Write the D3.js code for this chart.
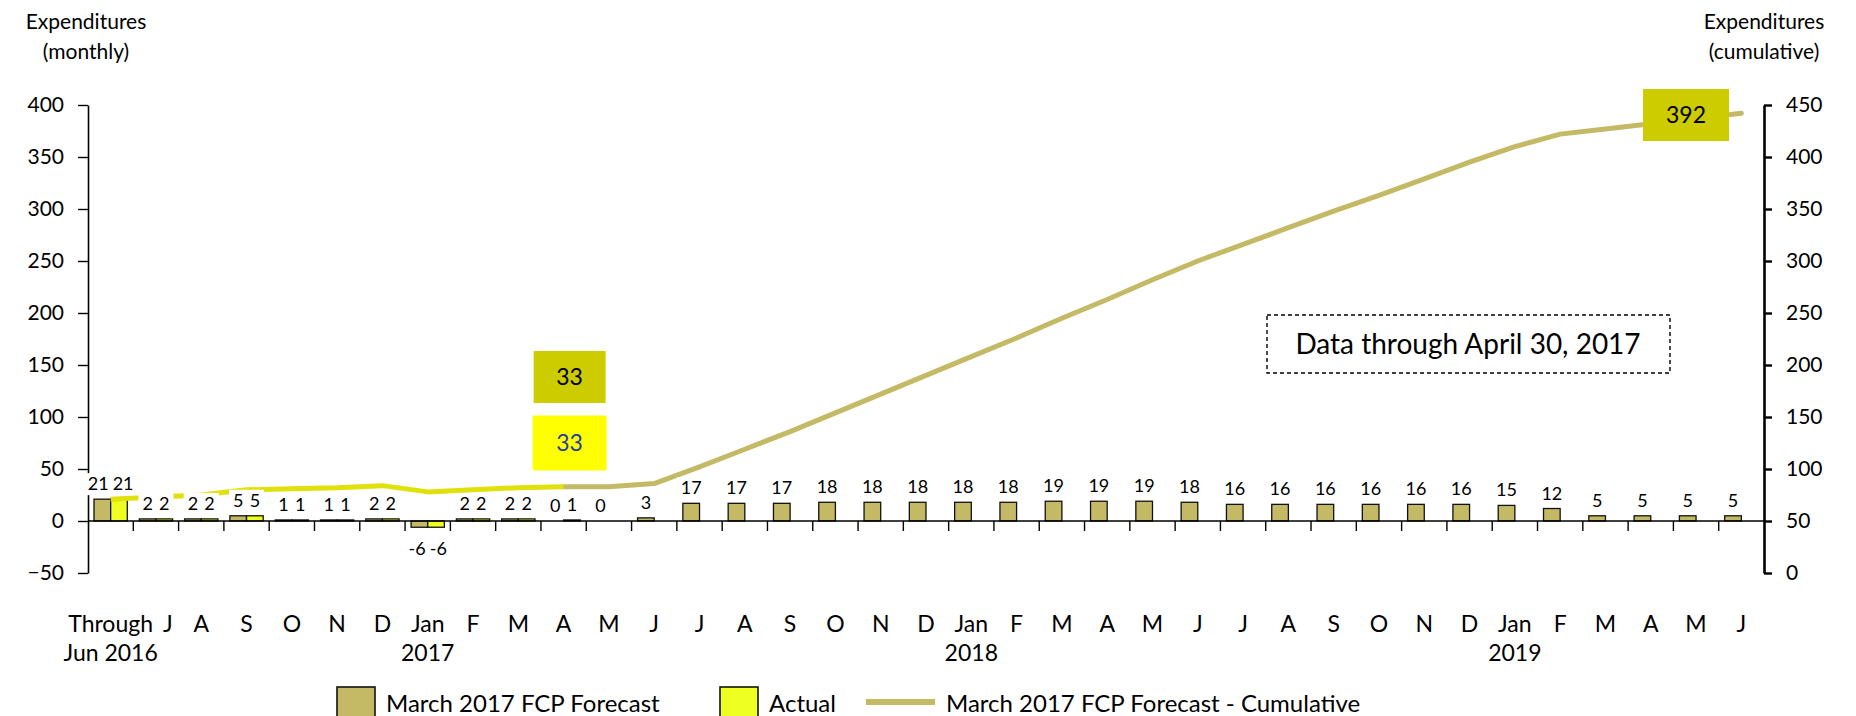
<!DOCTYPE html>
<html>
<head>
<meta charset="utf-8">
<script src="https://cdn.jsdelivr.net/npm/d3@7"></script>
<style>
  html, body { margin: 0; padding: 0; background: #fff; }
  svg { display: block; font-family: Lato, "Open Sans", sans-serif; }
</style>
</head>
<body>
<svg id="chart" width="1856" height="716"></svg>
<script>
// ---------------- DATA ----------------
const monthLabels = ["Through","J","A","S","O","N","D","Jan","F","M","A","M","J",
  "J","A","S","O","N","D","Jan","F","M","A","M","J",
  "J","A","S","O","N","D","Jan","F","M","A","M","J"];
const yearLabels = ["Jun 2016","","","","","","","2017","","","","","",
  "","","","","","","2018","","","","","",
  "","","","","","","2019","","","","",""];
const forecastMonthly = [21,2,2,5,1,1,2,-6,2,2,0,0,3,
  17,17,17,18,18,18,18,18,19,19,19,18,
  16,16,16,16,16,16,15,12,5,5,5,5];
const actualMonthly = [21,2,2,5,1,1,2,-6,2,2,1];
const actualCumulative = [21,23,25,30,31,32,34,28,30,32,33];
const forecastCumStart = 10; // forecast cumulative line starts at April 2017
const forecastCumulative = [33,33,36,52,69,86,104,122,140,158,176,195,213,232,250,
  266,282,298,313,329,345,360,372,377,382,387,392];
const leftTicks = [-50,0,50,100,150,200,250,300,350,400];
const rightTicks = [0,50,100,150,200,250,300,350,400,450];
const legendNames = ["March 2017 FCP Forecast","Actual","March 2017 FCP Forecast - Cumulative"];
const noteText = "Data through April 30, 2017";

// ---------------- STYLE ----------------
const C = {
  olive: "#C4BA66",
  actual: "#EEFF22",
  actualLine: "#E0E00A",
  boxOlive: "#CCCC00",
  boxYellow: "#FFFF00",
  blue: "#1F3FA0",
  ink: "#000"
};

const svg = d3.select("#chart");
const x0 = 88, x1 = 1764, yTop = 105, yBot = 573;
const n = monthLabels.length;
const idx = d3.range(n);

const x = d3.scaleBand().domain(idx).range([x0, x1]).paddingInner(0).paddingOuter(0);
const yL = d3.scaleLinear().domain([-50, 400]).range([yBot, yTop]);
const yR = d3.scaleLinear().domain([0, 450]).range([yBot, yTop]);
const groupPad = 6;
const xs = d3.scaleBand().domain(["f","a"]).range([groupPad, x.bandwidth() - groupPad]).padding(0);

// ---------------- AXES ----------------
const leftAxis = d3.axisLeft(yL).tickValues(leftTicks).tickSize(10).tickSizeOuter(0).tickPadding(14);
const gL = svg.append("g").attr("transform", `translate(${x0},0)`).call(leftAxis);
gL.select(".domain").attr("stroke-width", 1.6);
gL.selectAll(".tick line").attr("stroke-width", 1.4);
gL.selectAll("text").attr("font-size", 21).attr("fill", C.ink).attr("font-family", "Lato");

const rightAxis = d3.axisRight(yR).tickValues(rightTicks).tickSize(8).tickSizeOuter(0).tickPadding(14);
const gR = svg.append("g").attr("transform", `translate(${x1},0)`).call(rightAxis);
gR.select(".domain").attr("stroke-width", 2.6);
gR.selectAll(".tick line").attr("stroke-width", 2.4);
gR.selectAll("text").attr("font-size", 21).attr("fill", C.ink).attr("font-family", "Lato");

// axis titles
const titleL = svg.append("text").attr("font-size", 21).attr("text-anchor", "middle").attr("fill", C.ink);
titleL.append("tspan").attr("x", 86).attr("y", 29).text("Expenditures");
titleL.append("tspan").attr("x", 86).attr("y", 59).text("(monthly)");
const titleR = svg.append("text").attr("font-size", 21).attr("text-anchor", "middle").attr("fill", C.ink);
titleR.append("tspan").attr("x", 1764).attr("y", 29).text("Expenditures");
titleR.append("tspan").attr("x", 1764).attr("y", 59).text("(cumulative)");

// ---------------- BARS ----------------
const gBars = svg.append("g");
gBars.selectAll("rect.f").data(forecastMonthly).join("rect")
  .attr("x", (d, i) => x(i) + xs("f"))
  .attr("width", xs.bandwidth())
  .attr("y", d => yL(Math.max(0, d)))
  .attr("height", d => Math.abs(yL(d) - yL(0)))
  .attr("fill", C.olive).attr("stroke", "#111").attr("stroke-width", 1.3);
gBars.selectAll("rect.a").data(actualMonthly).join("rect")
  .attr("x", (d, i) => x(i) + xs("a"))
  .attr("width", xs.bandwidth())
  .attr("y", d => yL(Math.max(0, d)))
  .attr("height", d => Math.abs(yL(d) - yL(0)))
  .attr("fill", C.actual).attr("stroke", "#111").attr("stroke-width", 1.3);

// category axis (zero line + ticks)
const gX = svg.append("g");
gX.append("line").attr("x1", x0).attr("x2", x1).attr("y1", yL(0)).attr("y2", yL(0))
  .attr("stroke", C.ink).attr("stroke-width", 1.4);
gX.selectAll("line.t").data(d3.range(1, n)).join("line")
  .attr("x1", i => x(i)).attr("x2", i => x(i))
  .attr("y1", yL(0)).attr("y2", yL(0) + 10)
  .attr("stroke", C.ink).attr("stroke-width", 1.4);
const monthText = gX.selectAll("text.m").data(monthLabels).join("text")
  .attr("x", (d, i) => x(i) + x.bandwidth() / 2)
  .attr("y", 632).attr("text-anchor", "middle").attr("font-size", 23).attr("fill", C.ink)
  .text(d => d);
gX.selectAll("text.yr").data(yearLabels).join("text")
  .attr("x", (d, i) => x(i) + x.bandwidth() / 2)
  .attr("y", 661).attr("text-anchor", "middle").attr("font-size", 23).attr("fill", C.ink)
  .text(d => d);
// nudge month label right if it collides with the previous one
const mNodes = monthText.nodes();
for (let i = 1; i < mNodes.length; i++) {
  const a = mNodes[i - 1].getBBox(), b = mNodes[i].getBBox();
  const gap = b.x - (a.x + a.width);
  if (gap < 6) {
    const cur = +mNodes[i].getAttribute("x");
    mNodes[i].setAttribute("x", cur + (6 - gap) + 4);
  }
}

// ---------------- LINES ----------------
const cx = i => x(i) + x.bandwidth() / 2;
const lineGen = d3.line().x(d => cx(d.i)).y(d => yL(d.v));
const actLinePts = actualCumulative.map((v, i) => ({i, v}));
const fcLinePts = forecastCumulative.map((v, k) => ({i: k + forecastCumStart, v}));
svg.append("path").attr("d", lineGen(fcLinePts)).attr("fill", "none")
  .attr("stroke", C.olive).attr("stroke-width", 5).attr("stroke-linejoin", "round").attr("stroke-linecap", "round");
svg.append("path").attr("d", lineGen(actLinePts)).attr("fill", "none")
  .attr("stroke", C.actualLine).attr("stroke-width", 5).attr("stroke-linejoin", "round").attr("stroke-linecap", "butt");

// ---------------- DATA LABELS ----------------
const gLabBg = svg.append("g");
const gLabTx = svg.append("g");
const labelSpecs = [];
forecastMonthly.forEach((v, i) => labelSpecs.push({i, v, s: "f"}));
actualMonthly.forEach((v, i) => labelSpecs.push({i, v, s: "a"}));
labelSpecs.forEach(L => {
  L.xc = x(L.i) + xs(L.s) + xs.bandwidth() / 2;
  L.yb = L.v >= 0 ? yL(L.v) - 9 : yL(L.v) + 28;
  L.node = gLabTx.append("text").attr("x", L.xc).attr("y", L.yb).attr("text-anchor", "middle")
    .attr("font-size", 18).attr("fill", C.ink).text(String(L.v)).node();
  L.w = L.node.getComputedTextLength();
});
// spread apart pairs of labels in the same category that would overlap
d3.range(n).forEach(i => {
  const f = labelSpecs.find(L => L.i === i && L.s === "f");
  const a = labelSpecs.find(L => L.i === i && L.s === "a");
  if (!f || !a) return;
  const need = f.w / 2 + a.w / 2 + 4;
  const have = a.xc - f.xc;
  if (have < need) {
    const d = (need - have) / 2;
    f.xc -= d; a.xc += d;
    f.node.setAttribute("x", f.xc); a.node.setAttribute("x", a.xc);
  }
});
labelSpecs.forEach(L => {
  gLabBg.append("rect").attr("x", L.xc - L.w / 2 - 4).attr("y", L.yb - 17)
    .attr("width", L.w + 8).attr("height", 22).attr("fill", "#fff");
});

// ---------------- CALLOUT BOXES ----------------
const lastAct = actualCumulative.length - 1;
const calloutX = cx(lastAct) + 6;
function callout(xc, yc, w, h, fill, color, txt, r) {
  svg.append("rect").attr("x", xc - w / 2).attr("y", yc - h / 2).attr("width", w).attr("height", h)
    .attr("rx", r).attr("fill", fill);
  svg.append("text").attr("x", xc).attr("y", yc + 8).attr("text-anchor", "middle")
    .attr("font-size", 23).attr("fill", color).text(txt);
}
callout(calloutX, 377, 72, 52, C.boxOlive, C.ink, String(forecastCumulative[lastAct - forecastCumStart]), 0);
callout(calloutX, 443, 74, 55, C.boxYellow, C.blue, String(actualCumulative[lastAct]), 2);
const lastF = forecastCumulative.length - 1;
callout(1686, 115, 86, 52, C.boxOlive, C.ink, String(forecastCumulative[lastF]), 0);

// note box
svg.append("rect").attr("x", 1267).attr("y", 315).attr("width", 403).attr("height", 58)
  .attr("fill", "#fff").attr("stroke", C.ink).attr("stroke-width", 1.4).attr("stroke-dasharray", "4,3");
svg.append("text").attr("x", 1468).attr("y", 354).attr("text-anchor", "middle")
  .attr("font-size", 28).attr("fill", C.ink).text(noteText);

// ---------------- LEGEND ----------------
const gLeg = svg.append("g");
gLeg.append("rect").attr("x", 337).attr("y", 687).attr("width", 38).attr("height", 30)
  .attr("fill", C.olive).attr("stroke", "#111").attr("stroke-width", 1.6);
gLeg.append("text").attr("x", 386).attr("y", 712).attr("font-size", 24).attr("fill", C.ink).text(legendNames[0]);
gLeg.append("rect").attr("x", 720).attr("y", 687).attr("width", 38).attr("height", 30)
  .attr("fill", C.actual).attr("stroke", "#111").attr("stroke-width", 1.6);
gLeg.append("text").attr("x", 769).attr("y", 712).attr("font-size", 24).attr("fill", C.ink).text(legendNames[1]);
gLeg.append("line").attr("x1", 866).attr("x2", 935).attr("y1", 702).attr("y2", 702)
  .attr("stroke", C.olive).attr("stroke-width", 6);
gLeg.append("text").attr("x", 946).attr("y", 712).attr("font-size", 24).attr("fill", C.ink).text(legendNames[2]);
</script>
</body>
</html>
